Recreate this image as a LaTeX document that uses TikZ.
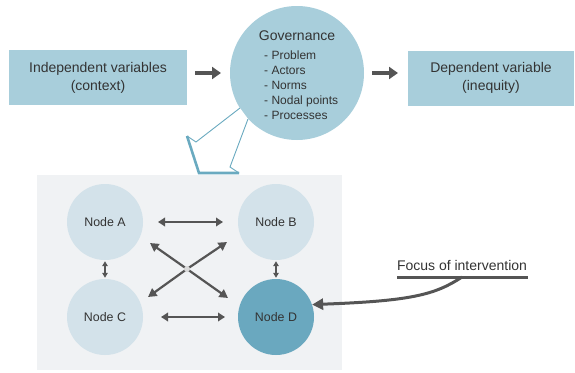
\documentclass[tikz,border=0pt]{standalone}
\usepackage{fontspec}
\setmainfont{Liberation Sans}
\usetikzlibrary{arrows.meta}
\definecolor{boxblue}{HTML}{A8CEDB}
\definecolor{nodelight}{HTML}{D3E2EA}
\definecolor{nodedark}{HTML}{6AA8BF}
\definecolor{panelgray}{HTML}{F0F2F4}
\definecolor{arrowgray}{HTML}{555555}
\definecolor{textgray}{HTML}{333333}
\definecolor{callteal}{HTML}{6AAAC0}
\tikzset{
  varbox/.style={fill=boxblue, draw=none, minimum width=178pt, minimum height=55pt, align=center, text=textgray, font=\fontsize{14}{18}\selectfont},
  netnode/.style={circle, fill=nodelight, draw=none, minimum size=76pt, text=textgray, font=\fontsize{12.4}{14}\selectfont},
  bigarrow/.style={draw=arrowgray, line width=4.5pt, -{Triangle[length=9pt,width=12pt]}},
  netarrow/.style={draw=arrowgray, line width=2.6pt, {Triangle[length=7pt,width=8.5pt]}-{Triangle[length=7pt,width=8.5pt]}},
  vertarrow/.style={draw=arrowgray, line width=1.6pt, {Triangle[length=5pt,width=5.5pt]}-{Triangle[length=5pt,width=5.5pt]}},
  crossarrow/.style={draw=arrowgray, line width=2.2pt, -{Triangle[length=8.5pt,width=9pt]}},
}
\begin{document}
\begin{tikzpicture}[x=1pt,y=-1pt]
\useasboundingbox (0,0) rectangle (575,372);
% top row
\node[varbox] (indep) at (98,77.5) {Independent variables\\(context)};
\node[varbox, minimum width=166pt] (dep) at (491,78) {Dependent variable\\(inequity)};
\node[circle, fill=boxblue, minimum size=134pt, inner sep=0pt] (gov) at (297,73) {};
\node[text=textgray, font=\fontsize{14}{16}\selectfont] (govtitle) at (297,36) {Governance};
\node[text=textgray, font=\fontsize{12}{15}\selectfont, align=left, anchor=north west, inner sep=0pt] (govlist) at (264,51) {- Problem\\- Actors\\- Norms\\- Nodal points\\- Processes};
\coordinate (a1s) at (195,73); \coordinate (a1e) at (221,73);
\coordinate (a2s) at (372,73); \coordinate (a2e) at (398,73);
\draw[bigarrow] (a1s) -- (a1e);
\draw[bigarrow] (a2s) -- (a2e);
% panel
\fill[panelgray] (37,175) rectangle (342,370);
% callout
\coordinate (c1) at (240,108);
\coordinate (c2) at (196,142);
\coordinate (c3) at (187,136);
\coordinate (c4) at (199,173);
\coordinate (c5) at (239,173);
\coordinate (c6) at (230,167);
\coordinate (c7) at (248,119);
\fill[white] (c1) -- (c2) -- (c3) -- (c4) -- (c5) -- (c6) -- (c7) -- cycle;
\draw[callteal, line width=0.9pt, line join=miter] (c1) -- (c2) -- (c3);
\draw[callteal, line width=2.6pt, line join=miter] (c3) -- (c4) -- (c5);
\draw[callteal, line width=0.9pt] (c5) -- (c6) -- (c7);
% network
\node[netnode] (A) at (105,222) {Node A};
\node[netnode] (B) at (276,222) {Node B};
\node[netnode] (C) at (105,317) {Node C};
\node[netnode, fill=nodedark] (D) at (276,317) {Node D};
\coordinate (ab1) at (158,222); \coordinate (ab2) at (223,222);
\coordinate (cd1) at (161,317); \coordinate (cd2) at (225,317);
\draw[netarrow] (ab1) -- (ab2);
\draw[netarrow] (cd1) -- (cd2);
\draw[vertarrow] ([yshift=-1pt]A.south) -- ([yshift=1pt]C.north);
\draw[vertarrow] ([yshift=-1pt]B.south) -- ([yshift=1pt]D.north);
\coordinate (mid) at (187,269);
\coordinate (x1) at (150,243);
\coordinate (x2) at (227,242);
\coordinate (x3) at (148,297);
\coordinate (x4) at (228,298);
\draw[crossarrow] (mid) -- (x1);
\draw[crossarrow] (mid) -- (x2);
\draw[crossarrow] (mid) -- (x3);
\draw[crossarrow] (mid) -- (x4);
\fill[gray!30] (mid) circle (3pt);
% focus
\node[text=textgray, font=\fontsize{14}{16}\selectfont, inner sep=0pt] (focus) at (462,265) {Focus of intervention};
\coordinate (u1) at (397,277); \coordinate (u2) at (528,277);
\draw[arrowgray, line width=3pt] (u1) -- (u2);
\coordinate (fs) at (462,277);
\draw[arrowgray, line width=3pt, -{Triangle[length=11pt,width=11pt]}] (fs) .. controls (435,295) and (410,301) .. (D.19);
\end{tikzpicture}
\end{document}
